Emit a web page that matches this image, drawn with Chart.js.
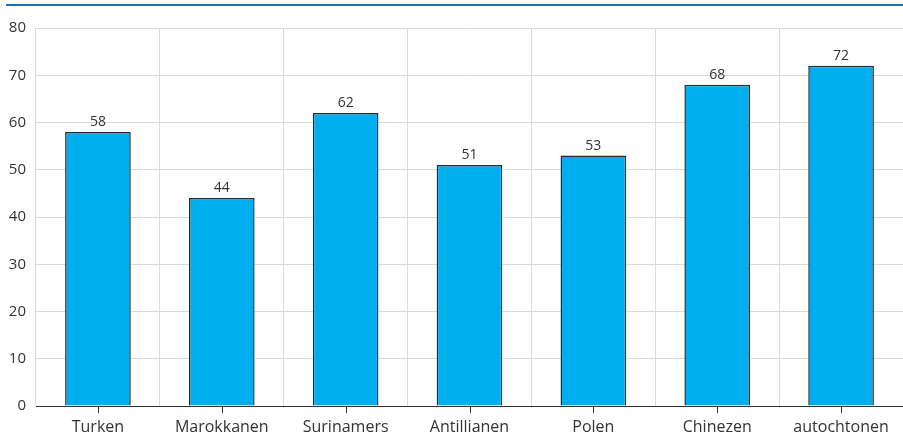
<!DOCTYPE html>
<html>
<head>
<meta charset="utf-8">
<script src="https://cdn.jsdelivr.net/npm/chart.js@4/dist/chart.umd.min.js"></script>
<style>
  html, body { margin: 0; padding: 0; background: #fff; }
  #wrap { position: relative; width: 903px; height: 438px; }
  #topline { position: absolute; left: 6px; right: 0; top: 4px; height: 2px; background: #1f6fad; }
</style>
</head>
<body>
<div id="wrap">
  <div id="topline"></div>
  <canvas id="chart" width="903" height="438"></canvas>
</div>
<script>
const groepen = ['Turken', 'Marokkanen', 'Surinamers', 'Antillianen', 'Polen', 'Chinezen', 'autochtonen'];
const waarden = [58, 44, 62, 51, 53, 68, 72];
const yMin = 0;
const yMax = 80;
const yStap = 10;

const lettertype = "'Open Sans', 'Noto Sans', sans-serif";

// waarden boven de staven + streepjes onder de x-as
const extraPlugin = {
  id: 'extra',
  afterDatasetsDraw(chart) {
    const ctx = chart.ctx;
    const meta = chart.getDatasetMeta(0);
    ctx.save();
    ctx.fillStyle = '#333';
    ctx.font = '14px ' + lettertype;
    ctx.textAlign = 'center';
    ctx.textBaseline = 'bottom';
    meta.data.forEach((bar, i) => {
      ctx.fillText(String(waarden[i]), bar.x, bar.y - 3);
    });
    const xs = chart.scales.x;
    const y0 = chart.scales.y.getPixelForValue(0);
    ctx.strokeStyle = '#333';
    ctx.lineWidth = 1;
    groepen.forEach((g, i) => {
      const x = Math.round(xs.getPixelForValue(i)) + 0.5;
      ctx.beginPath();
      ctx.moveTo(x, y0);
      ctx.lineTo(x, y0 + 7);
      ctx.stroke();
    });
    ctx.restore();
  }
};

new Chart(document.getElementById('chart'), {
  type: 'bar',
  data: {
    labels: groepen,
    datasets: [{
      data: waarden,
      backgroundColor: '#00aeef',
      borderColor: '#2a2a2a',
      borderWidth: 1.5,
      barPercentage: 0.53,
      categoryPercentage: 1
    }]
  },
  options: {
    responsive: false,
    animation: false,
    layout: { padding: { top: 28, right: 0, bottom: 0, left: 0 } },
    plugins: {
      legend: { display: false },
      tooltip: { enabled: false }
    },
    scales: {
      x: {
        afterFit(scale) { scale.height = 32; },
        grid: { offset: true, color: '#d9d9d9', drawTicks: false },
        border: { display: true, color: '#333', width: 1 },
        ticks: { color: '#333', font: { family: lettertype, size: 16 }, padding: 12 }
      },
      y: {
        min: yMin,
        max: yMax,
        afterFit(scale) { scale.width = 36; },
        grid: { color: '#d9d9d9', drawTicks: false },
        border: { display: false },
        ticks: { stepSize: yStap, color: '#333', font: { family: lettertype, size: 15 }, padding: 10 }
      }
    }
  },
  plugins: [extraPlugin]
});
</script>
</body>
</html>
